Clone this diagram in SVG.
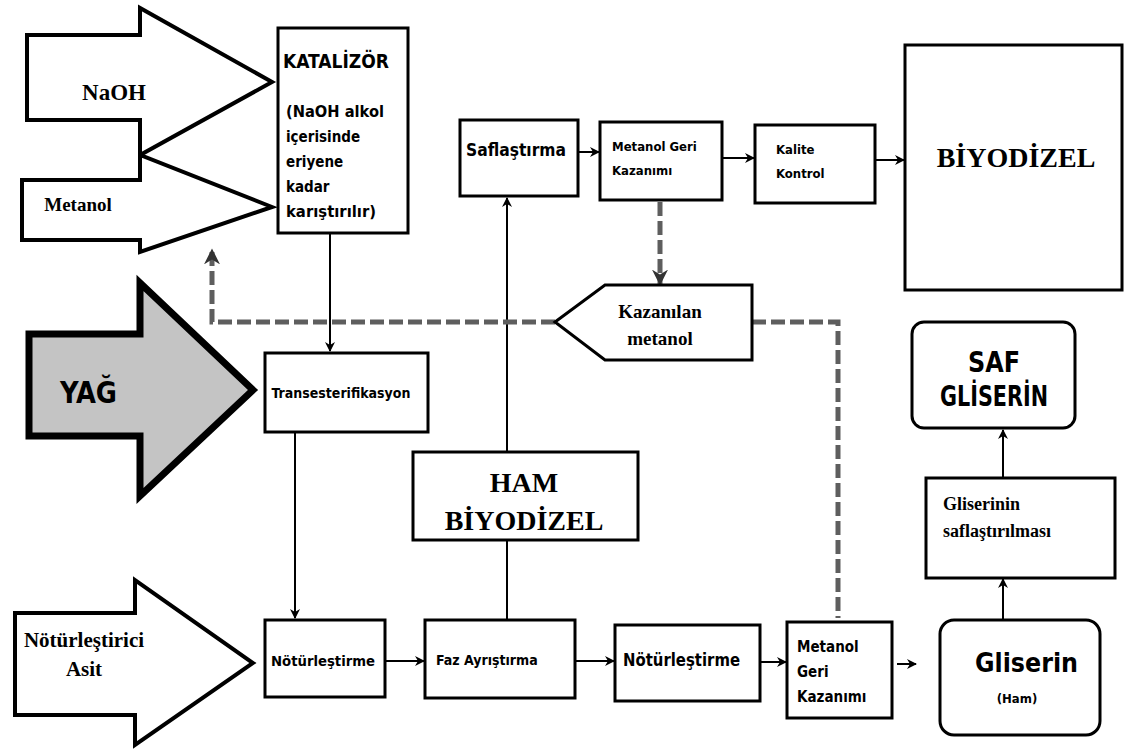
<svg xmlns="http://www.w3.org/2000/svg" width="1131" height="750" viewBox="0 0 1131 750">
<defs>
<marker id="ah" viewBox="0 0 10 10" refX="9" refY="5" markerWidth="5" markerHeight="5" orient="auto" markerUnits="strokeWidth">
<path d="M0,0 L10,5 L0,10 L3,5 Z" fill="#000"/>
</marker>
<marker id="ahd" viewBox="0 0 10 10" refX="9" refY="5" markerWidth="3.2" markerHeight="3.2" orient="auto" markerUnits="strokeWidth">
<path d="M0,0 L10,5 L0,10 L3,5 Z" fill="#333"/>
</marker>
<style>
.box{fill:#fff;stroke:#000;stroke-width:3}
.big{fill:#fff;stroke:#000;stroke-width:4;stroke-linejoin:miter}
.ln{fill:none;stroke:#000;stroke-width:2}
.dash{fill:none;stroke:#5e5e5e;stroke-width:5;stroke-dasharray:14 5}
.ser{font-family:"Liberation Serif","Times New Roman",serif;font-weight:bold;fill:#000}
.nar{font-family:"Liberation Sans Narrow","DejaVu Sans Condensed","Liberation Sans",sans-serif;font-weight:bold;fill:#000}
</style>
</defs>
<g id="connectors">
<line class="ln" x1="330" y1="233" x2="330" y2="351" marker-end="url(#ah)"/>
<line class="ln" x1="295" y1="432" x2="295" y2="618" marker-end="url(#ah)"/>
<line class="ln" x1="507" y1="620" x2="507" y2="541"/>
<line class="ln" x1="507" y1="452" x2="507" y2="198" marker-end="url(#ah)"/>
<line class="ln" x1="578" y1="152" x2="599" y2="152" marker-end="url(#ah)"/>
<line class="ln" x1="722" y1="158" x2="754" y2="158" marker-end="url(#ah)"/>
<line class="ln" x1="875" y1="160" x2="904" y2="160" marker-end="url(#ah)"/>
<line class="ln" x1="385" y1="661" x2="424" y2="661" marker-end="url(#ah)"/>
<line class="ln" x1="575" y1="661" x2="614" y2="661" marker-end="url(#ah)"/>
<line class="ln" x1="760" y1="662" x2="786" y2="662" marker-end="url(#ah)"/>
<line class="ln" x1="897" y1="664" x2="916" y2="664" marker-end="url(#ah)"/>
<line class="ln" x1="1003" y1="620" x2="1003" y2="579" marker-end="url(#ah)"/>
<line class="ln" x1="1003" y1="478" x2="1003" y2="430" marker-end="url(#ah)"/>
<path class="dash" d="M555,322 H212 V250" marker-end="url(#ahd)"/>
<path class="dash" d="M660,202 V284" marker-end="url(#ahd)"/>
<path class="dash" d="M752,322 H838 V618"/>
</g>
<g id="naoh">
<path class="big" d="M27,35 H140 V8 L272,82 L140,155 V120 H27 Z"/>
<text class="ser" x="114" y="100" font-size="23" text-anchor="middle">NaOH</text>
</g>
<g id="metanol">
<path class="big" d="M22,180 H140 V155 L272,207 L140,252 V240 H22 Z"/>
<text class="ser" x="78" y="211" font-size="19" text-anchor="middle">Metanol</text>
</g>
<g id="yag">
<path d="M29,334 H140 V283 L253,390 L140,496 V436 H29 Z" fill="#c4c4c4" stroke="#000" stroke-width="7"/>
<text class="nar" x="60" y="403" font-size="30" textLength="57" lengthAdjust="spacingAndGlyphs">YAĞ</text>
</g>
<g id="asit">
<path class="big" d="M15,613 H135 V580 L253,663 L135,745 V715 H15 Z"/>
<text class="ser" x="84" y="647" font-size="21" text-anchor="middle">Nötürleştirici</text>
<text class="ser" x="84" y="676" font-size="21" text-anchor="middle">Asit</text>
</g>
<g id="katalizor">
<rect class="box" x="278" y="28" width="130" height="205"/>
<text class="nar" x="283" y="68" font-size="20" textLength="106" lengthAdjust="spacingAndGlyphs">KATALİZÖR</text>
<text class="nar" x="286" y="117" font-size="15" textLength="98" lengthAdjust="spacingAndGlyphs">(NaOH alkol</text>
<text class="nar" x="286" y="142" font-size="15">içerisinde</text>
<text class="nar" x="286" y="167" font-size="15">eriyene</text>
<text class="nar" x="286" y="192" font-size="15">kadar</text>
<text class="nar" x="286" y="217" font-size="15" textLength="90" lengthAdjust="spacingAndGlyphs">karıştırılır)</text>
</g>
<g id="trans">
<rect class="box" x="265" y="353" width="163" height="79"/>
<text class="nar" x="341" y="398" font-size="14" text-anchor="middle">Transesterifikasyon</text>
</g>
<g id="saflastirma">
<rect class="box" x="460" y="120" width="118" height="76"/>
<text class="nar" x="466" y="156" font-size="17" textLength="100" lengthAdjust="spacingAndGlyphs">Saflaştırma</text>
</g>
<g id="metgeri1">
<rect class="box" x="600" y="122" width="122" height="78"/>
<text class="nar" x="612" y="151" font-size="13">Metanol Geri</text>
<text class="nar" x="612" y="175" font-size="13">Kazanımı</text>
</g>
<g id="kalite">
<rect class="box" x="755" y="125" width="120" height="78"/>
<text class="nar" x="776" y="154" font-size="13">Kalite</text>
<text class="nar" x="776" y="178" font-size="13">Kontrol</text>
</g>
<g id="biyodizel">
<rect class="box" x="905" y="45" width="217" height="245"/>
<text class="ser" x="1016" y="167" font-size="28" text-anchor="middle">BİYODİZEL</text>
</g>
<g id="kazanilan">
<path class="box" d="M555,322 L605,285 H752 V360 H605 Z"/>
<text class="ser" x="660" y="318" font-size="19" text-anchor="middle">Kazanılan</text>
<text class="ser" x="660" y="345" font-size="19" text-anchor="middle">metanol</text>
</g>
<g id="hambiyodizel">
<rect class="box" x="413" y="452" width="225" height="88"/>
<text class="ser" x="524" y="492" font-size="28" text-anchor="middle">HAM</text>
<text class="ser" x="524" y="530" font-size="28" text-anchor="middle">BİYODİZEL</text>
</g>
<g id="notur1">
<rect class="box" x="265" y="620" width="120" height="77"/>
<text class="nar" x="271" y="666" font-size="14" textLength="104" lengthAdjust="spacingAndGlyphs">Nötürleştirme</text>
</g>
<g id="faz">
<rect class="box" x="425" y="620" width="150" height="78"/>
<text class="nar" x="436" y="665" font-size="14">Faz Ayrıştırma</text>
</g>
<g id="notur2">
<rect class="box" x="615" y="625" width="145" height="76"/>
<text class="nar" x="623" y="666" font-size="17" textLength="117" lengthAdjust="spacingAndGlyphs">Nötürleştirme</text>
</g>
<g id="metgeri2">
<rect class="box" x="787" y="622" width="105" height="96"/>
<text class="nar" x="797" y="652" font-size="15">Metanol</text>
<text class="nar" x="797" y="677" font-size="15">Geri</text>
<text class="nar" x="797" y="702" font-size="15">Kazanımı</text>
</g>
<g id="gliserin">
<rect class="box" x="940" y="620" width="160" height="115" rx="14"/>
<text class="nar" x="975" y="672" font-size="27" textLength="103" lengthAdjust="spacingAndGlyphs">Gliserin</text>
<text class="nar" x="1017" y="703" font-size="13" text-anchor="middle">(Ham)</text>
</g>
<g id="glisaf">
<rect class="box" x="926" y="478" width="189" height="100"/>
<text class="ser" x="943" y="510" font-size="18">Gliserinin</text>
<text class="ser" x="943" y="537" font-size="18">saflaştırılması</text>
</g>
<g id="safgliserin">
<rect class="box" x="912" y="322" width="163" height="106" rx="12"/>
<text class="nar" x="994" y="372" font-size="28" text-anchor="middle" textLength="52" lengthAdjust="spacingAndGlyphs">SAF</text>
<text class="nar" x="940" y="406" font-size="28" textLength="108" lengthAdjust="spacingAndGlyphs">GLİSERİN</text>
</g>
</svg>
